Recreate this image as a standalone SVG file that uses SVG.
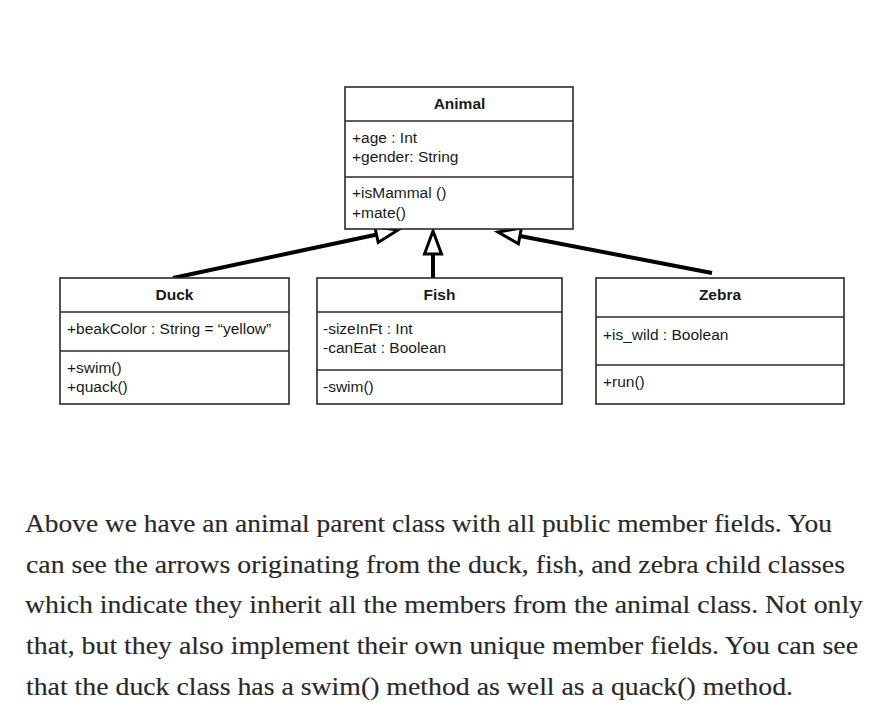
<svg xmlns="http://www.w3.org/2000/svg" width="890" height="708" viewBox="0 0 890 708">
<style>
.box{fill:#fff;stroke:#2a2a2a;stroke-width:1.6}
.div{stroke:#2a2a2a;stroke-width:1.6;fill:none}
.t{font-family:"Liberation Sans",Arial,sans-serif;font-size:15.5px;fill:#1a1a1a}
.h{font-family:"Liberation Sans",Arial,sans-serif;font-size:15.5px;font-weight:bold;fill:#1a1a1a;text-anchor:middle}
.ln{stroke:#000;stroke-width:4;fill:none}
.hd{fill:#fff;stroke:#000;stroke-width:3;stroke-linejoin:miter}
.p{font-family:"Liberation Serif","Times New Roman",serif;font-size:25.5px;fill:#292929;stroke:#292929;stroke-width:0.15}
</style>
<rect width="890" height="708" fill="#fff"/>
<g id="connectors">
<line class="ln" x1="173" y1="278" x2="377" y2="234.5"/>
<polygon class="hd" points="398,230 378.2,242.4 374.8,226.8"/>
<line class="ln" x1="433" y1="278" x2="433" y2="254"/>
<polygon class="hd" points="433,231 441.5,254 424.5,254"/>
<line class="ln" x1="712" y1="273" x2="520" y2="236"/>
<polygon class="hd" points="498,232 521.4,228 518.4,243.8"/>
</g>
<g id="animal">
<rect class="box" x="345" y="87" width="228" height="142"/>
<line class="div" x1="345" y1="121" x2="573" y2="121"/>
<line class="div" x1="345" y1="177" x2="573" y2="177"/>
<text class="h" x="459.5" y="109">Animal</text>
<text class="t" x="352" y="142.5">+age : Int</text>
<text class="t" x="352" y="162">+gender: String</text>
<text class="t" x="352" y="198">+isMammal ()</text>
<text class="t" x="352" y="217.5">+mate()</text>
</g>
<g id="duck">
<rect class="box" x="60" y="278" width="229" height="126"/>
<line class="div" x1="60" y1="312" x2="289" y2="312"/>
<line class="div" x1="60" y1="351" x2="289" y2="351"/>
<text class="h" x="174.5" y="300">Duck</text>
<text class="t" x="67" y="333.5">+beakColor : String = “yellow”</text>
<text class="t" x="67" y="373">+swim()</text>
<text class="t" x="67" y="392">+quack()</text>
</g>
<g id="fish">
<rect class="box" x="317" y="278" width="245" height="126"/>
<line class="div" x1="317" y1="312" x2="562" y2="312"/>
<line class="div" x1="317" y1="370" x2="562" y2="370"/>
<text class="h" x="439.5" y="300">Fish</text>
<text class="t" x="323" y="334">-sizeInFt : Int</text>
<text class="t" x="323" y="353">-canEat : Boolean</text>
<text class="t" x="323" y="391.5">-swim()</text>
</g>
<g id="zebra">
<rect class="box" x="596" y="278" width="248" height="126"/>
<line class="div" x1="596" y1="317" x2="844" y2="317"/>
<line class="div" x1="596" y1="365" x2="844" y2="365"/>
<text class="h" x="720" y="300">Zebra</text>
<text class="t" x="603" y="340">+is_wild : Boolean</text>
<text class="t" x="603" y="387">+run()</text>
</g>
<g id="paragraph">
<text class="p" x="25" y="532" textLength="807" lengthAdjust="spacingAndGlyphs">Above we have an animal parent class with all public member fields. You</text>
<text class="p" x="26" y="573" textLength="819" lengthAdjust="spacingAndGlyphs">can see the arrows originating from the duck, fish, and zebra child classes</text>
<text class="p" x="25" y="613" textLength="838" lengthAdjust="spacingAndGlyphs">which indicate they inherit all the members from the animal class. Not only</text>
<text class="p" x="26" y="654" textLength="832" lengthAdjust="spacingAndGlyphs">that, but they also implement their own unique member fields. You can see</text>
<text class="p" x="26" y="695" textLength="767" lengthAdjust="spacingAndGlyphs">that the duck class has a swim() method as well as a quack() method.</text>
</g>
</svg>
